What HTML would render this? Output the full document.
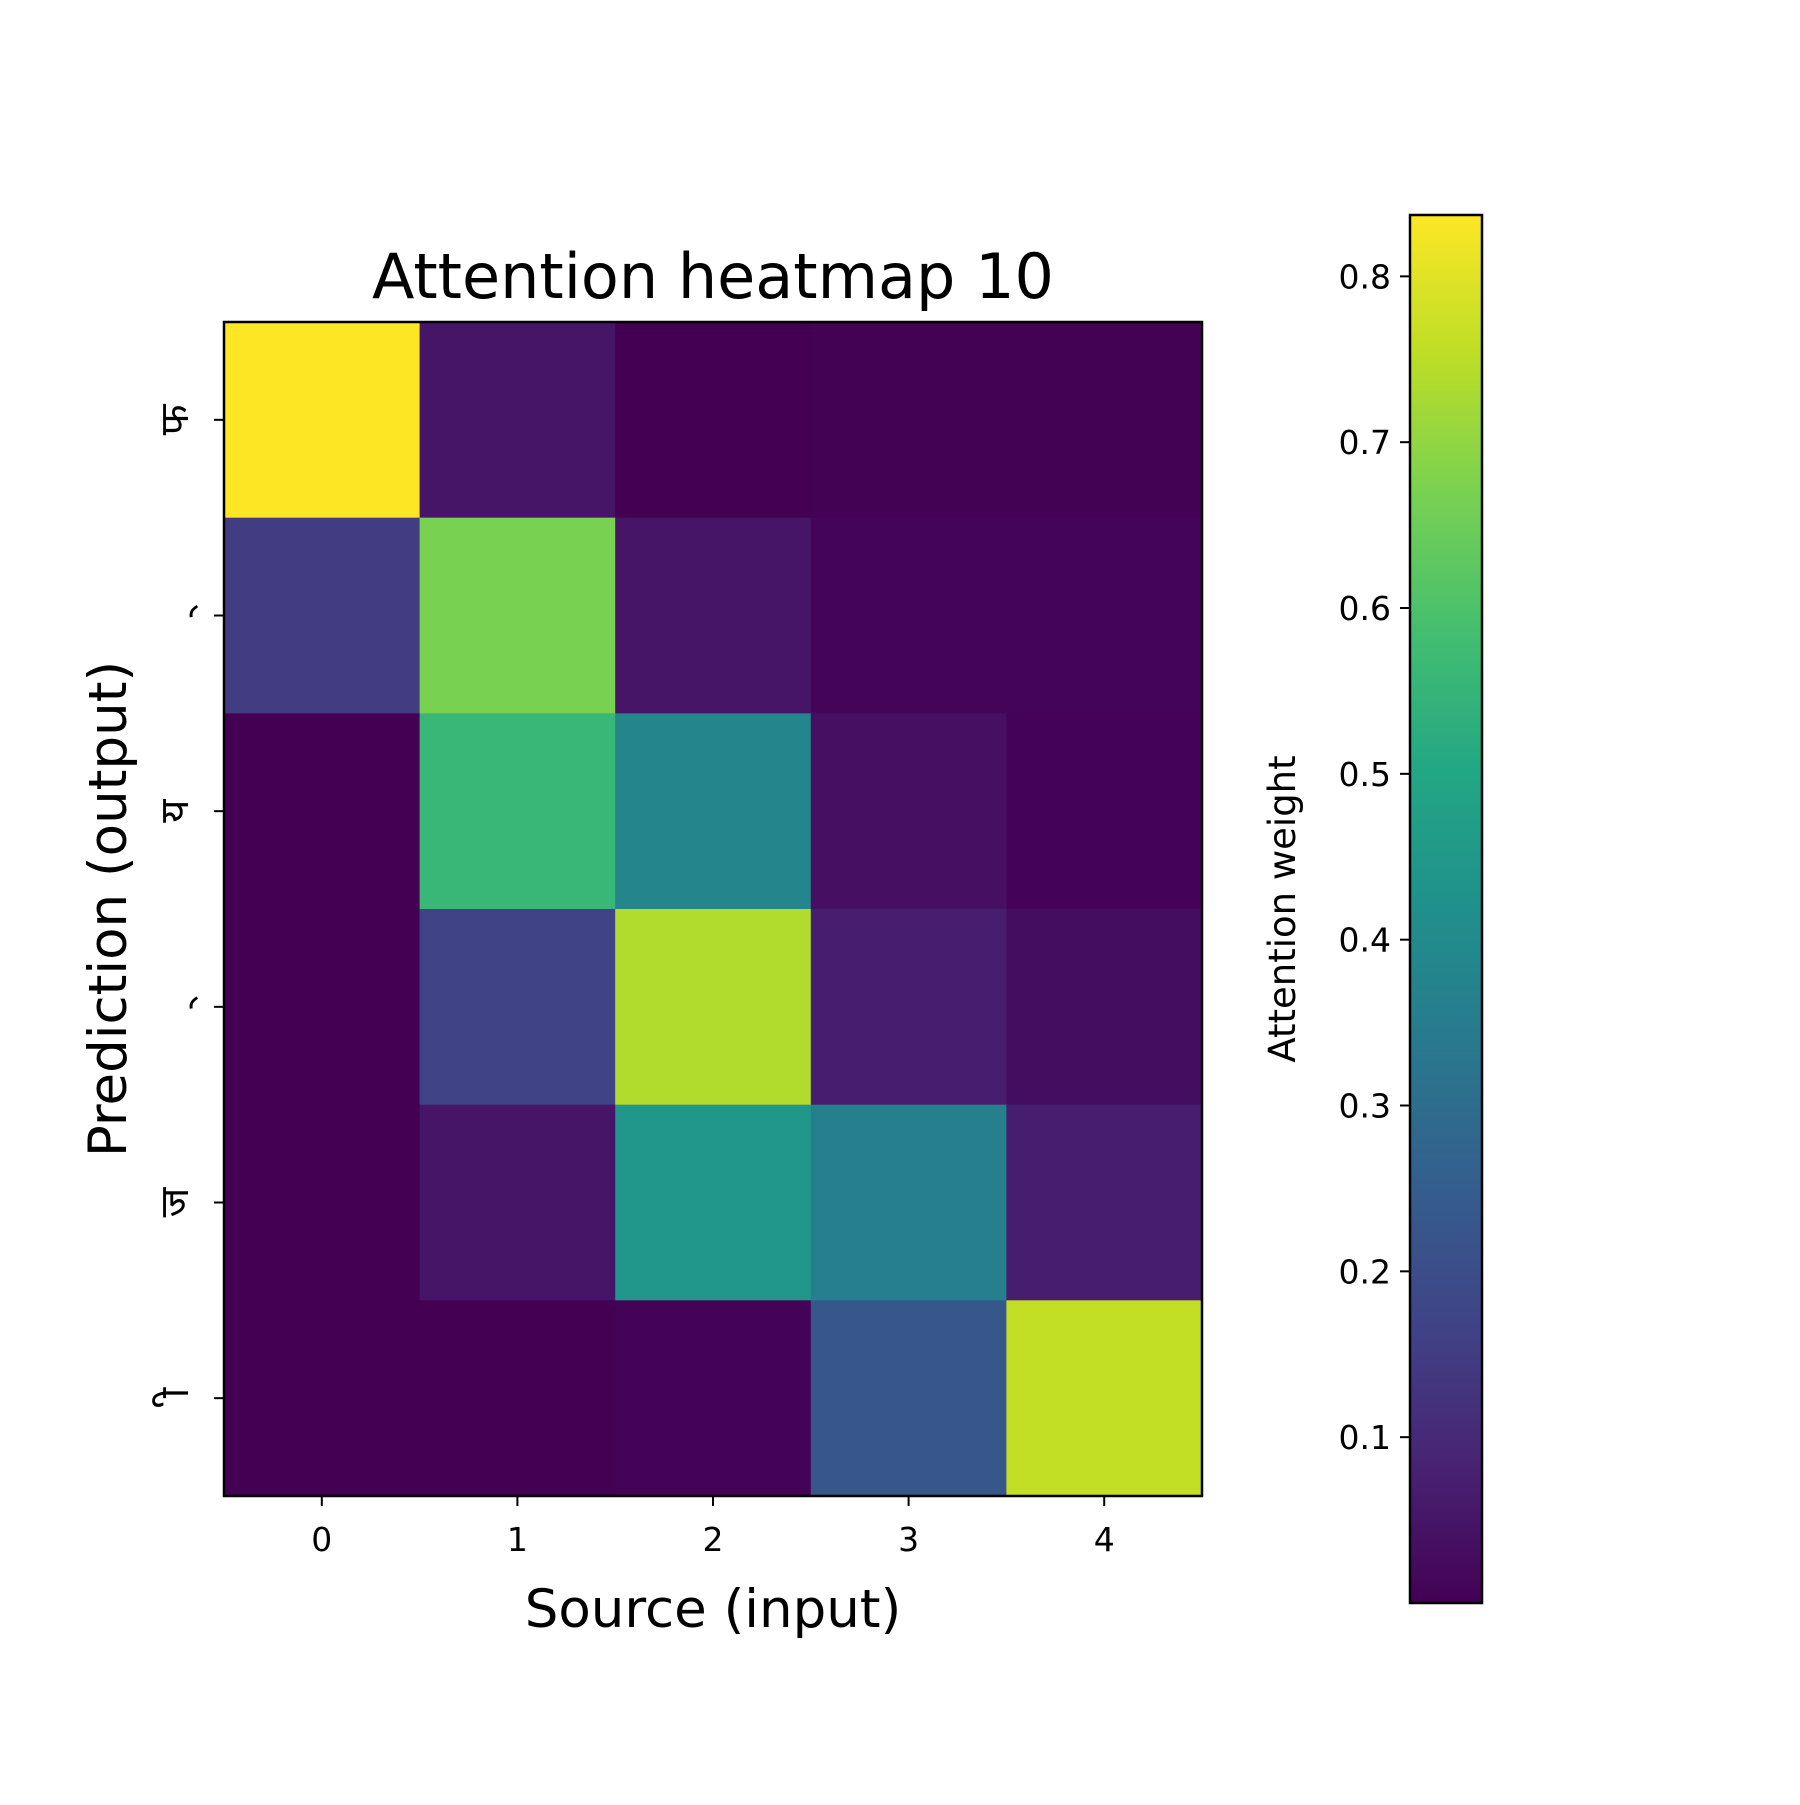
<!DOCTYPE html>
<html><head><meta charset="utf-8"><style>
html,body{margin:0;padding:0;background:#fff}
svg text{font-family:"DejaVu Sans","Liberation Sans","Noto Sans CJK SC",sans-serif;fill:#000}
</style></head><body>
<svg id="chart" width="1800" height="1800" viewBox="0 0 1800 1800" xmlns="http://www.w3.org/2000/svg">
<rect width="1800" height="1800" fill="#fff"/>
<defs><linearGradient id="cbgrad" x1="0" y1="1" x2="0" y2="0"></linearGradient></defs>
<g id="cells"></g>
<g id="axes"></g>
<text x="713" y="298" font-size="62" text-anchor="middle">Attention heatmap 10</text>
<text x="713" y="1627" font-size="53" text-anchor="middle">Source (input)</text>
<text x="0" y="0" font-size="53" text-anchor="middle" transform="translate(126,909) rotate(-90)">Prediction (output)</text>
<text x="0" y="0" font-size="37" text-anchor="middle" transform="translate(1295,909) rotate(-90)">Attention weight</text>
</svg>
<script>
const xCategories = ["0","1","2","3","4"];
const yCategories = ["फ","\u00A0्","य","\u00A0्","ज","\u00A0ी"];
const row0 = [0.837, 0.05, 0.0, 0.003, 0.003];
const row1 = [0.15, 0.67, 0.05, 0.01, 0.008];
const row2 = [0.0, 0.56, 0.38, 0.035, 0.005];
const row3 = [0.0, 0.17, 0.74, 0.07, 0.03];
const row4 = [0.0, 0.05, 0.44, 0.36, 0.07];
const row5 = [0.0, 0.0, 0.005, 0.23, 0.76];
const colorbarTicks = [0.1,0.2,0.3,0.4,0.5,0.6,0.7,0.8];
const vmin = 0.0, vmax = 0.837;

const NS="http://www.w3.org/2000/svg";
const rows=[row0,row1,row2,row3,row4,row5];
const AX={l:224,t:322,r:1202,b:1496};
const CB={l:1410,t:215,r:1482,b:1603};
const cw=(AX.r-AX.l)/xCategories.length, ch=(AX.b-AX.t)/yCategories.length;
function xPos(i){return AX.l+cw*i;}
function yPos(j){return AX.t+ch*j;}
function cbY(v){return CB.b-(v-vmin)/(vmax-vmin)*(CB.b-CB.t);}
const vir=[[68,1,84],[72,35,116],[64,67,135],[52,94,141],[41,120,142],[32,144,140],[34,167,132],[68,190,112],[121,209,81],[189,222,38],[253,231,37]];
function viridis(v){let t=Math.max(0,Math.min(1,(v-vmin)/(vmax-vmin)))*10;let i=Math.min(9,Math.floor(t)),f=t-i;
const a=vir[i],b=vir[i+1];return `rgb(${a.map((c,k)=>Math.round(c+(b[k]-c)*f)).join(',')})`;}
function mk(tag,attrs,parent){const e=document.createElementNS(NS,tag);for(const k in attrs)e.setAttribute(k,attrs[k]);parent.appendChild(e);return e;}
const svg=document.getElementById('chart');
const cells=document.getElementById('cells');
const axes=document.getElementById('axes');
rows.forEach((r,j)=>r.forEach((v,i)=>{
  const c=mk('rect',{x:xPos(i),y:yPos(j),width:cw+0.5,height:ch+0.5,fill:viridis(v)},cells);
  
  
}));
const frame=mk('rect',{x:AX.l,y:AX.t,width:AX.r-AX.l,height:AX.b-AX.t,fill:'none',stroke:'#000','stroke-width':2.5},axes);


xCategories.forEach((c,i)=>{
  const x=xPos(i)+cw/2;
  const tk=mk('line',{x1:x,x2:x,y1:AX.b,y2:AX.b+10,stroke:'#000','stroke-width':2},axes);
  
  
  const t=mk('text',{x:x,y:AX.b+55,'font-size':33,'text-anchor':'middle'},axes);t.textContent=c;
  
  
});
yCategories.forEach((c,j)=>{
  const y=yPos(j)+ch/2;
  const tk=mk('line',{x1:AX.l-10,x2:AX.l,y1:y,y2:y,stroke:'#000','stroke-width':2},axes);
  
  
  const t=mk('text',{x:0,y:0,'font-size':40,'text-anchor':'middle',transform:`translate(${AX.l-36},${y}) rotate(-90)`},axes);t.textContent=c;
  
  
});
const grad=document.getElementById('cbgrad');
for(let k=0;k<=10;k++){const v=vmin+(vmax-vmin)*k/10;mk('stop',{offset:(k*10)+'%','stop-color':viridis(v)},grad);}
const cb=mk('rect',{x:CB.l,y:CB.t,width:CB.r-CB.l,height:CB.b-CB.t,fill:'url(#cbgrad)',stroke:'#000','stroke-width':2.5},svg);


colorbarTicks.forEach(v=>{
  const y=cbY(v);
  const tk=mk('line',{x1:CB.l-10,x2:CB.l,y1:y,y2:y,stroke:'#000','stroke-width':2},svg);
  
  
  const t=mk('text',{x:CB.l-19,y:y+12,'font-size':33,'text-anchor':'end'},svg);t.textContent=v.toFixed(1);
  
  
});
</script>
</body></html>
